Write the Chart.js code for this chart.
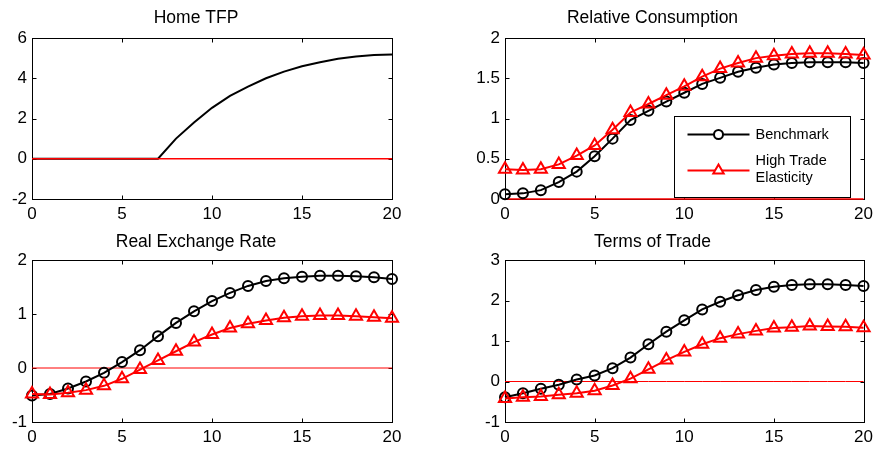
<!DOCTYPE html>
<html lang="en">
<head>
<meta charset="UTF-8">
<title>Home TFP news shock - impulse responses</title>
<script src="https://cdn.jsdelivr.net/npm/chart.js"></script>
<style>
  body { margin: 0; background: #fff; }
  #wrap { position: relative; width: 878px; height: 449px; }
  canvas { position: absolute; }
</style>
</head>
<body>
<div id="wrap">
  <canvas id="tfp" width="439" height="225" style="left:0;top:0"></canvas>
  <canvas id="cons" width="439" height="225" style="left:439px;top:0"></canvas>
  <canvas id="rer" width="439" height="224" style="left:0;top:225px"></canvas>
  <canvas id="tot" width="439" height="224" style="left:439px;top:225px"></canvas>
</div>
<script>
// quarters after the shock
const periods = [0,1,2,3,4,5,6,7,8,9,10,11,12,13,14,15,16,17,18,19,20];
const xTicks = [0, 5, 10, 15, 20];

// Home TFP (same path in both models), zero line in red
const homeTfp = [0,0,0,0,0,0,0,0,1.0,1.8,2.53,3.12,3.58,4.0,4.33,4.6,4.8,4.97,5.08,5.15,5.18];
const zeroLine = periods.map(() => 0);

// Relative consumption
const consBench = [0.06,0.07,0.11,0.21,0.34,0.53,0.75,0.98,1.095,1.21,1.32,1.43,1.505,1.58,1.63,1.67,1.69,1.70,1.70,1.70,1.69];
const consHigh  = [0.37,0.36,0.37,0.43,0.54,0.665,0.86,1.075,1.18,1.29,1.40,1.52,1.62,1.69,1.75,1.78,1.80,1.81,1.81,1.80,1.79];

// Real exchange rate
const rerBench = [-0.51,-0.48,-0.38,-0.25,-0.09,0.11,0.33,0.59,0.835,1.05,1.24,1.39,1.52,1.61,1.66,1.69,1.71,1.71,1.70,1.68,1.65];
const rerHigh  = [-0.48,-0.49,-0.46,-0.41,-0.33,-0.2,-0.03,0.14,0.31,0.48,0.62,0.74,0.82,0.88,0.93,0.96,0.97,0.97,0.96,0.94,0.92];

// Terms of trade
const totBench = [-0.39,-0.29,-0.18,-0.08,0.05,0.15,0.33,0.59,0.92,1.23,1.51,1.78,1.97,2.13,2.26,2.34,2.38,2.40,2.40,2.38,2.36];
const totHigh  = [-0.42,-0.39,-0.37,-0.33,-0.29,-0.23,-0.1,0.07,0.3,0.53,0.73,0.92,1.07,1.17,1.25,1.32,1.34,1.37,1.36,1.35,1.33];

const legendLabels = ['Benchmark', ['High Trade', 'Elasticity']];

const FONT = '"Liberation Sans", Arial, Helvetica, sans-serif';
const toXY = arr => arr.map((v, i) => ({ x: periods[i], y: v }));

function benchSet(data) {
  return {
    data: toXY(data), borderColor: '#000', borderWidth: 2, tension: 0,
    pointStyle: 'circle', pointRadius: 5, pointBorderWidth: 2,
    pointBorderColor: '#000', pointBackgroundColor: 'rgba(0,0,0,0)', clip: false
  };
}
function highSet(data) {
  return {
    data: toXY(data), borderColor: '#ff0000', borderWidth: 2, tension: 0,
    pointStyle: 'triangle', pointRadius: 7, pointBorderWidth: 2,
    pointBorderColor: '#ff0000', pointBackgroundColor: 'rgba(0,0,0,0)', clip: false
  };
}
function zeroSet(width) {
  return { data: toXY(zeroLine), borderColor: '#ff0000', borderWidth: width, pointRadius: 0, clip: false };
}

// matlab style box with inward ticks on all four sides
const boxTicks = {
  id: 'boxTicks',
  beforeDatasetsDraw(chart) {
    const { ctx, chartArea: a, scales } = chart;
    const L = Math.round(a.left) + 0.5, R = Math.round(a.right) + 0.5;
    const T = Math.round(a.top) + 0.5, B = Math.round(a.bottom) + 0.5;
    const len = 4;
    ctx.save();
    ctx.strokeStyle = '#000';
    ctx.lineWidth = 1;
    ctx.strokeRect(L, T, R - L, B - T);
    ctx.beginPath();
    scales.x.ticks.forEach(t => {
      const px = Math.round(scales.x.getPixelForValue(t.value)) + 0.5;
      ctx.moveTo(px, B); ctx.lineTo(px, B - len);
      ctx.moveTo(px, T); ctx.lineTo(px, T + len);
    });
    scales.y.ticks.forEach(t => {
      const py = Math.round(scales.y.getPixelForValue(t.value)) + 0.5;
      ctx.moveTo(L, py); ctx.lineTo(L + len, py);
      ctx.moveTo(R, py); ctx.lineTo(R - len, py);
    });
    ctx.stroke();
    ctx.restore();
  }
};

// legend box drawn inside the relative consumption panel
const legendBox = {
  id: 'legendBox',
  afterDraw(chart) {
    const { ctx, chartArea: a } = chart;
    const w = 176, h = 81;
    const x0 = Math.round(a.right - 14 - w) + 0.5;
    const y0 = Math.round(a.bottom - 2 - h) + 0.5;
    ctx.save();
    ctx.fillStyle = '#fff';
    ctx.fillRect(x0, y0, w, h);
    ctx.strokeStyle = '#000';
    ctx.lineWidth = 1;
    ctx.strokeRect(x0, y0, w, h);
    const rows = [
      { ds: chart.data.datasets[1], y: y0 + 18, label: legendLabels[0] },
      { ds: chart.data.datasets[0], y: y0 + 54, label: legendLabels[1] }
    ];
    ctx.font = '14.5px ' + FONT;
    ctx.textBaseline = 'middle';
    rows.forEach(r => {
      ctx.strokeStyle = r.ds.borderColor;
      ctx.lineWidth = 2;
      ctx.beginPath();
      ctx.moveTo(x0 + 13, r.y); ctx.lineTo(x0 + 75, r.y);
      ctx.stroke();
      ctx.fillStyle = '#fff';
      Chart.helpers.drawPoint(ctx, {
        pointStyle: r.ds.pointStyle, radius: r.ds.pointStyle === 'circle' ? 4.5 : 6,
        borderWidth: 2, rotation: 0
      }, x0 + 44, r.y);
      ctx.fillStyle = '#000';
      const lines = Array.isArray(r.label) ? r.label : [r.label];
      lines.forEach((txt, i) => {
        ctx.fillText(txt, x0 + 81, r.y + (i - (lines.length - 1) / 2) * 17 - (lines.length > 1 ? 1 : 0));
      });
    });
    ctx.restore();
  }
};

function makePanel(id, title, y, datasets, area, extraPlugins) {
  const cv = document.getElementById(id);
  const W = cv.width, H = cv.height;
  return new Chart(cv, {
    type: 'line',
    data: { datasets: datasets },
    options: {
      responsive: false,
      animation: false,
      events: [],
      layout: { padding: { left: 0, right: W - area.right, top: 0, bottom: H - 26 - area.bottom } },
      plugins: {
        legend: { display: false },
        tooltip: { enabled: false },
        title: {
          display: true, text: title, color: '#000',
          font: { family: FONT, size: 17.5, weight: 'normal', lineHeight: 1 },
          padding: { top: area.titleTop, bottom: area.top - area.titleTop - 17.5 }
        }
      },
      scales: {
        x: {
          type: 'linear', min: 0, max: 20,
          grid: { display: false, drawTicks: false }, border: { display: false },
          afterBuildTicks: s => { s.ticks = xTicks.map(v => ({ value: v })); },
          afterFit: s => { s.height = 26; },
          ticks: { color: '#000', padding: 5, maxRotation: 0, font: { family: FONT, size: 17 } }
        },
        y: {
          min: y.min, max: y.max,
          grid: { display: false, drawTicks: false }, border: { display: false },
          afterFit: s => { s.width = area.left; },
          ticks: {
            stepSize: y.step, color: '#000', padding: 5, font: { family: FONT, size: 17 },
            callback: v => String(Math.round(v * 10) / 10)
          }
        }
      }
    },
    plugins: [boxTicks].concat(extraPlugins || [])
  });
}

makePanel('tfp', 'Home TFP', { min: -2, max: 6, step: 2 }, [
  zeroSet(1.5),
  { data: toXY(homeTfp), borderColor: '#000', borderWidth: 2, pointRadius: 0, tension: 0, clip: false }
], { left: 32, right: 392, top: 38, bottom: 199, titleTop: 9 });

makePanel('cons', 'Relative Consumption', { min: 0, max: 2, step: 0.5 }, [
  highSet(consHigh), benchSet(consBench), zeroSet(1.5)
], { left: 66, right: 427, top: 38, bottom: 199, titleTop: 9 }, [legendBox]);

makePanel('rer', 'Real Exchange Rate', { min: -1, max: 2, step: 1 }, [
  highSet(rerHigh), benchSet(rerBench), zeroSet(1)
], { left: 32, right: 392, top: 35, bottom: 197, titleTop: 8 });

makePanel('tot', 'Terms of Trade', { min: -1, max: 3, step: 1 }, [
  highSet(totHigh), benchSet(totBench), zeroSet(1)
], { left: 66, right: 427, top: 35, bottom: 197, titleTop: 8 });
</script>
</body>
</html>
